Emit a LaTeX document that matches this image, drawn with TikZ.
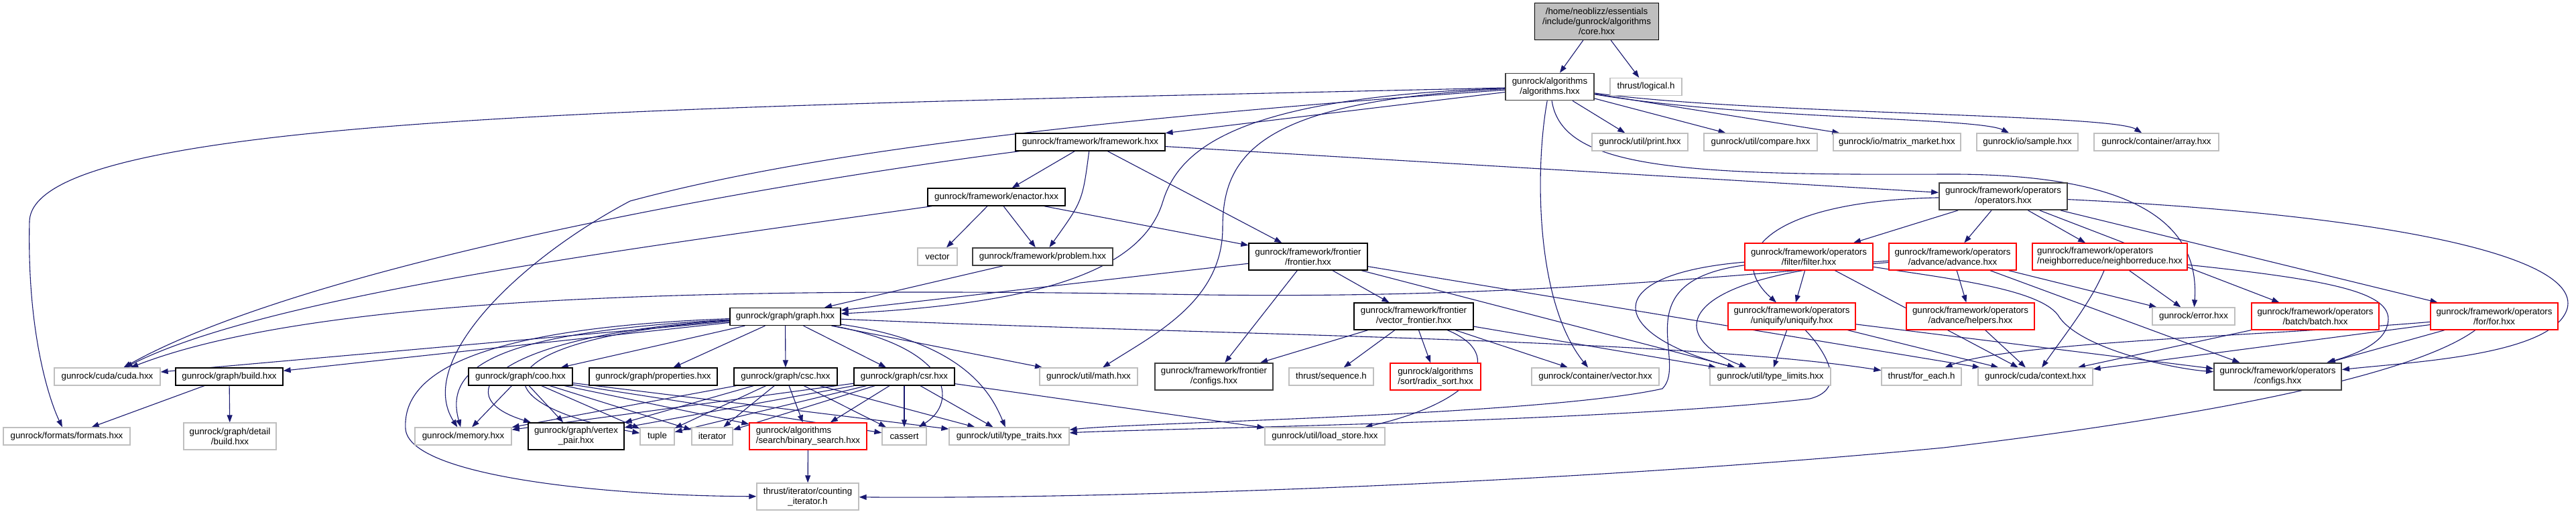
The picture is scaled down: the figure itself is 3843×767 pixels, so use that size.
\documentclass[tikz,border=0pt]{standalone}
\usepackage{fontspec}
\setmainfont{Liberation Sans}
\usetikzlibrary{arrows.meta}
\pgfdeclarelayer{background}
\pgfdeclarelayer{canvas}
\pgfsetlayers{canvas,background,main}
\definecolor{eblue}{HTML}{191970}
\definecolor{gb}{HTML}{BFBFBF}
\definecolor{dg}{HTML}{404040}
\definecolor{rdd}{HTML}{FF0000}
\tikzset{
  nd/.style={draw, line width=1.3pt, inner sep=0pt, align=center, fill=white,
    font={\fontsize{13.3}{15}\selectfont}, minimum height=26pt},
  two/.style={minimum height=40pt},
  gr/.style={nd, draw=gb},
  bk/.style={nd, draw=black},
  dk/.style={nd, draw=dg, line width=1.8pt},
  rd/.style={nd, draw=rdd},
  top/.style={nd, draw=black, fill=gb},
  e/.style={draw=eblue, line width=1.1pt, -{Triangle[length=11pt,width=8pt]}},
}
\begin{document}
\begin{tikzpicture}[x=1pt,y=-1pt]
\begin{pgfonlayer}{canvas}
\fill[white] (0,0) rectangle (3843,767);
\end{pgfonlayer}
\useasboundingbox (0,0) rectangle (3843,767);
% ---------- nodes ----------
\node[top, minimum width=185pt, minimum height=55pt] (core) at (2382,32) {/home/neoblizz/essentials\\/include/gunrock/algorithms\\/core.hxx};
\node[dk, two, minimum width=132pt] (algorithms) at (2312,129.5) {gunrock/algorithms\\/algorithms.hxx};
\node[gr, minimum width=107pt] (logical) at (2455.5,129.5) {thrust/logical.h};
\node[bk, minimum width=223pt] (framework) at (1626.5,212) {gunrock/framework/framework.hxx};
\node[gr, minimum width=143pt] (print) at (2446.5,212) {gunrock/util/print.hxx};
\node[gr, minimum width=169pt] (compare) at (2626.5,212) {gunrock/util/compare.hxx};
\node[gr, minimum width=190pt] (matrix) at (2830,212) {gunrock/io/matrix\_market.hxx};
\node[gr, minimum width=151pt] (sample) at (3024.5,212) {gunrock/io/sample.hxx};
\node[gr, minimum width=186pt] (array) at (3217,212) {gunrock/container/array.hxx};
\node[bk, minimum width=205pt] (enactor) at (1486.5,294) {gunrock/framework/enactor.hxx};
\node[dk, two, minimum width=191pt] (operators) at (2988.5,293) {gunrock/framework/operators\\/operators.hxx};
\node[gr, minimum width=59pt] (vector) at (1398.5,383) {vector};
\node[dk, minimum width=209pt] (problem) at (1555.5,383) {gunrock/framework/problem.hxx};
\node[bk, two, minimum width=177pt] (frontier) at (1951.5,383) {gunrock/framework/frontier\\/frontier.hxx};
\node[rd, two, minimum width=191pt] (filter) at (2698.5,383) {gunrock/framework/operators\\/filter/filter.hxx};
\node[rd, two, minimum width=190pt] (advance) at (2913,383) {gunrock/framework/operators\\/advance/advance.hxx};
\node[rd, two, minimum width=231pt, align=left] (nreduce) at (3147.5,383) {gunrock/framework/operators\\/neighborreduce/neighborreduce.hxx};
\node[bk, minimum width=165pt] (graph) at (1171.5,472.5) {gunrock/graph/graph.hxx};
\node[bk, two, minimum width=178pt] (vfrontier) at (2109,472) {gunrock/framework/frontier\\/vector\_frontier.hxx};
\node[rd, two, minimum width=190pt] (uniquify) at (2673,472) {gunrock/framework/operators\\/uniquify/uniquify.hxx};
\node[rd, two, minimum width=191pt] (helpers) at (2939.5,472) {gunrock/framework/operators\\/advance/helpers.hxx};
\node[gr, minimum width=123pt] (error) at (3272.5,472) {gunrock/error.hxx};
\node[rd, two, minimum width=190pt] (batch) at (3454,472) {gunrock/framework/operators\\/batch/batch.hxx};
\node[rd, two, minimum width=190pt] (for) at (3721,472) {gunrock/framework/operators\\/for/for.hxx};
\node[gr, minimum width=158pt] (cuda) at (160,562) {gunrock/cuda/cuda.hxx};
\node[bk, minimum width=160pt] (build) at (342,562) {gunrock/graph/build.hxx};
\node[bk, minimum width=155pt] (coo) at (776.5,562) {gunrock/graph/coo.hxx};
\node[bk, minimum width=191pt] (properties) at (974.5,562) {gunrock/graph/properties.hxx};
\node[bk, minimum width=154pt] (csc) at (1172,562) {gunrock/graph/csc.hxx};
\node[bk, minimum width=150pt] (csr) at (1349,562) {gunrock/graph/csr.hxx};
\node[gr, minimum width=146pt] (math) at (1624,562) {gunrock/util/math.hxx};
\node[dk, two, minimum width=176pt] (fconfigs) at (1811,562) {gunrock/framework/frontier\\/configs.hxx};
\node[gr, minimum width=126pt] (sequence) at (1986,562) {thrust/sequence.h};
\node[rd, two, minimum width=135pt, align=left] (radix) at (2141.5,562) {gunrock/algorithms\\/sort/radix\_sort.hxx};
\node[gr, minimum width=190pt] (cvector) at (2380,562) {gunrock/container/vector.hxx};
\node[gr, minimum width=180pt] (tlimits) at (2641,562) {gunrock/util/type\_limits.hxx};
\node[gr, minimum width=119pt] (foreach) at (2866.5,562) {thrust/for\_each.h};
\node[gr, minimum width=171pt] (context) at (3036.5,562) {gunrock/cuda/context.hxx};
\node[dk, two, minimum width=190pt] (opconfigs) at (3398,562) {gunrock/framework/operators\\/configs.hxx};
\node[gr, minimum width=189pt] (formats) at (99.5,651) {gunrock/formats/formats.hxx};
\node[gr, two, minimum width=138pt] (dbuild) at (343,651) {gunrock/graph/detail\\/build.hxx};
\node[gr, minimum width=144pt] (memory) at (691,651) {gunrock/memory.hxx};
\node[bk, two, minimum width=143pt] (vpair) at (859.5,651) {gunrock/graph/vertex\\\_pair.hxx};
\node[gr, minimum width=51pt] (tuple) at (980.5,651) {tuple};
\node[gr, minimum width=61pt] (iterator) at (1062.5,651) {iterator};
\node[rd, two, minimum width=175pt, align=left] (bsearch) at (1205.5,651) {gunrock/algorithms\\/search/binary\_search.hxx};
\node[gr, minimum width=66pt] (cassert) at (1349,651) {cassert};
\node[gr, minimum width=179pt] (ttraits) at (1505.5,651) {gunrock/util/type\_traits.hxx};
\node[gr, minimum width=179pt] (loadstore) at (1976.5,651) {gunrock/util/load\_store.hxx};
\node[gr, two, minimum width=152pt] (citer) at (1205,741) {thrust/iterator/counting\\\_iterator.h};
% ---------- edges ----------
\begin{pgfonlayer}{background}
\draw[e] (core) -- (algorithms);
\draw[e] (core) -- (logical);
% algorithms
\draw[e] (algorithms) -- (framework);
\draw[e] (algorithms) -- (print);
\draw[e] (algorithms) -- (compare);
\draw[e] (algorithms) -- (matrix);
\draw[e] (algorithms) .. controls (2600,178) and (2950,175) .. (sample);
\draw[e] (algorithms) .. controls (2600,170) and (3150,170) .. (array);
\draw[e] (algorithms) .. controls (2330,250) and (2500,262) .. (2900,260) .. controls (3230,258) and (3280,360) .. (error);
\draw[e] (algorithms) .. controls (2290,250) and (2290,450) .. (cvector);
\draw[e] (algorithms) .. controls (1880,150) and (1824,230) .. (1824,340) .. controls (1824,450) and (1720,500) .. (math);
\draw[e] (algorithms) .. controls (1850,145) and (1760,220) .. (1735,300) .. controls (1700,420) and (1500,455) .. (graph);
\draw[e] (algorithms) .. controls (1600,180) and (1200,230) .. (940,300) .. controls (770,390) and (620,540) .. (memory);
\draw[e] (algorithms) .. controls (1000,160) and (50,170) .. (44,330) .. controls (40,500) and (75,600) .. (formats);
% framework
\draw[e] (framework) -- (enactor);
\draw[e] (framework) .. controls (1615,300) .. (problem);
\draw[e] (framework) -- (frontier);
\draw[e] (framework) -- (operators);
\draw[e] (framework) .. controls (1100,280) and (450,400) .. (cuda);
% enactor
\draw[e] (enactor) -- (vector);
\draw[e] (enactor) -- (problem);
\draw[e] (enactor) -- (frontier);
\draw[e] (enactor) .. controls (950,370) and (400,440) .. (cuda);
% problem, frontier
\draw[e] (problem) -- (graph);
\draw[e] (frontier) -- (graph);
\draw[e] (frontier) -- (fconfigs);
\draw[e] (frontier) -- (vfrontier);
\draw[e] (frontier) -- (tlimits);
\draw[e] (frontier) -- (context);
% vector frontier
\draw[e] (vfrontier) -- (fconfigs);
\draw[e] (vfrontier) -- (sequence);
\draw[e] (vfrontier) -- (radix);
\draw[e] (vfrontier) -- (cvector);
\draw[e] (vfrontier) -- (tlimits);
\draw[e] (vfrontier) .. controls (2250,530) and (2200,600) .. (loadstore);
% operators
\draw[e] (operators) -- (filter);
\draw[e] (operators) -- (advance);
\draw[e] (operators) -- (nreduce);
\draw[e] (operators) -- (batch);
\draw[e] (operators) -- (for);
\draw[e] (operators) .. controls (2640,300) and (2570,380) .. (uniquify);
\draw[e] (operators) .. controls (3550,320) and (3850,380) .. (3830,460) .. controls (3810,530) and (3600,540) .. (opconfigs);
% filter
\draw[e] (filter) -- (uniquify);
\draw[e] (filter) .. controls (2380,410) and (2400,500) .. (tlimits);
\draw[e] (filter) -- (context);
\draw[e] (filter) .. controls (2900,415) and (3040,430) .. (3070,470) .. controls (3100,520) and (3240,550) .. (opconfigs);
\draw[e] (filter) .. controls (2420,420) and (2520,540) .. (2480,580) .. controls (2300,620) and (1700,630) .. (ttraits);
% advance
\draw[e] (advance) -- (helpers);
\draw[e] (advance) -- (error);
\draw[e] (advance) -- (opconfigs);
\draw[e] (advance) .. controls (2500,410) and (2480,500) .. (tlimits);
\draw[e] (advance) .. controls (2500,420) and (2200,445) .. (1800,440) .. controls (1200,430) and (500,430) .. (cuda);
% neighborreduce
\draw[e] (nreduce) -- (error);
\draw[e] (nreduce) .. controls (3120,450) and (3080,500) .. (context);
\draw[e] (nreduce) .. controls (3500,420) and (3580,440) .. (3560,490) .. controls (3550,515) and (3510,530) .. (opconfigs);
% helpers, uniquify, batch, for
\draw[e] (helpers) -- (context);
\draw[e] (uniquify) -- (tlimits);
\draw[e] (uniquify) -- (context);
\draw[e] (uniquify) -- (opconfigs);
\draw[e] (uniquify) .. controls (2720,520) and (2760,580) .. (2700,595) .. controls (2400,630) and (1700,640) .. (ttraits);
\draw[e] (batch) -- (context);
\draw[e] (for) -- (context);
\draw[e] (for) -- (opconfigs);
\draw[e] (for) .. controls (3400,500) and (3000,510) .. (foreach);
\draw[e] (for) .. controls (3600,560) and (3300,620) .. (2900,668) .. controls (2300,725) and (1600,745) .. (citer);
% graph
\draw[e] (graph) -- (cuda);
\draw[e] (graph) -- (build);
\draw[e] (graph) -- (coo);
\draw[e] (graph) -- (properties);
\draw[e] (graph) -- (csc);
\draw[e] (graph) -- (csr);
\draw[e] (graph) -- (math);
\draw[e] (graph) .. controls (1800,500) and (2500,505) .. (foreach);
\draw[e] (graph) .. controls (760,495) and (660,540) .. (memory);
\draw[e] (graph) .. controls (740,500) and (660,590) .. (vpair);
\draw[e] (graph) .. controls (720,505) and (700,600) .. (tuple);
\draw[e] (graph) .. controls (1420,520) and (1430,600) .. (cassert);
\draw[e] (graph) .. controls (1440,510) and (1480,590) .. (ttraits);
\draw[e] (graph) .. controls (700,490) and (600,560) .. (605,640) .. controls (610,710) and (900,740) .. (citer);
% coo csc csr
\foreach \s in {coo,csc,csr}{
  \foreach \t in {memory,vpair,tuple,iterator,bsearch,cassert,ttraits}{
    \draw[e] (\s) -- (\t);
  }
}
\draw[e] (csr) -- (loadstore);
\draw[e] (build) -- (formats);
\draw[e] (build) -- (dbuild);
\draw[e] (bsearch) -- (citer);
\end{pgfonlayer}
\end{tikzpicture}
\end{document}
